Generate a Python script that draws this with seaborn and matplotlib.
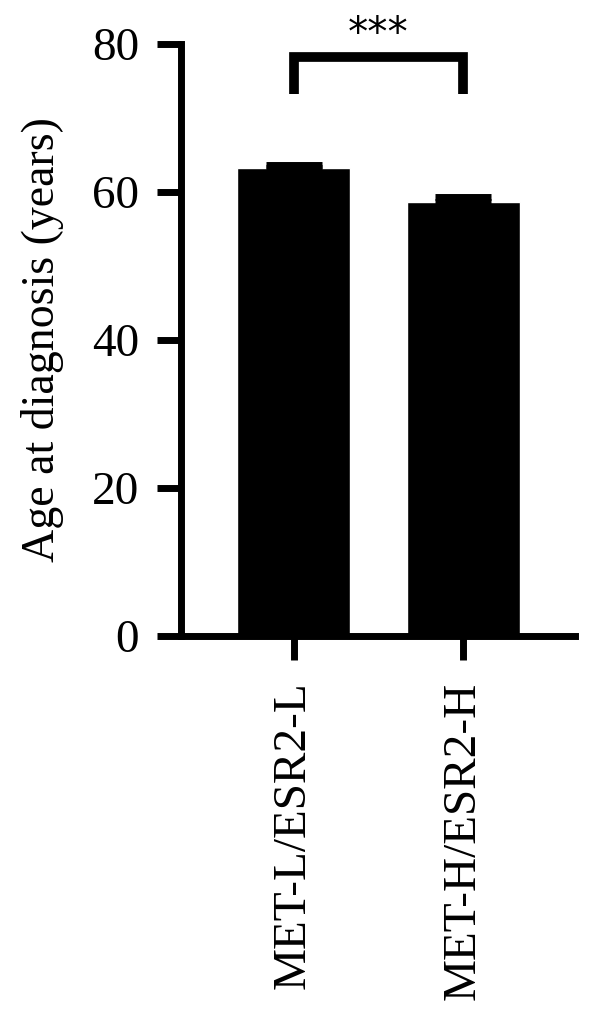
import numpy as np
import matplotlib
matplotlib.use("Agg")
import matplotlib.pyplot as plt
import seaborn as sns
import pandas as pd

groups = ["MET-L/ESR2-L", "MET-H/ESR2-H"]
mean_age = [63.2, 58.6]
sem_age = [0.4, 0.7]
y_ticks = [0, 20, 40, 60, 80]
sig_label = "***"

sns.set_theme(style="ticks")
plt.rcParams['font.family'] = ['Liberation Serif', 'DejaVu Serif']
plt.rcParams['text.color'] = 'black'
plt.rcParams['axes.labelcolor'] = 'black'
plt.rcParams['xtick.color'] = 'black'
plt.rcParams['ytick.color'] = 'black'

df = pd.DataFrame({"group": groups, "age": mean_age})

fig = plt.figure(figsize=(6, 10.29), dpi=100)
ax = fig.add_axes([0.301, 0.3824, 0.657, 0.5748])

sns.barplot(data=df, x="group", y="age", color="black", saturation=1,
            width=0.667, errorbar=None, ax=ax)
ax.errorbar(range(len(groups)), mean_age, yerr=[np.zeros(len(sem_age)), sem_age],
            fmt="none", ecolor="black", elinewidth=5, capsize=20.5, capthick=5)

ax.set_xlim(-0.667, 1.658)
ax.set_ylim(0, 80)
ax.set_yticks(y_ticks)
ax.set_xlabel("")
ax.set_ylabel("Age at diagnosis (years)", fontsize=33)
ax.yaxis.set_label_coords(-0.295, 0.50)
ax.tick_params(axis="both", width=5, length=17, color="black", labelsize=34)
ax.tick_params(axis="y", pad=13)
ax.tick_params(axis="x", pad=16)
plt.setp(ax.get_xticklabels(), rotation=90)

for side in ["top", "right"]:
    ax.spines[side].set_visible(False)
for side in ["left", "bottom"]:
    ax.spines[side].set_linewidth(5)
    ax.spines[side].set_color("black")

# significance bracket
ax.plot([0, 0, 1, 1], [73.2, 78.2, 78.2, 73.2], color="black", lw=7,
        solid_capstyle="butt", solid_joinstyle="miter", clip_on=False)
ax.text(0.5, 81.2, sig_label, ha="center", va="center", fontsize=29,
        family=["DejaVu Sans"], clip_on=False)

fig.savefig("out.png", dpi=100)
